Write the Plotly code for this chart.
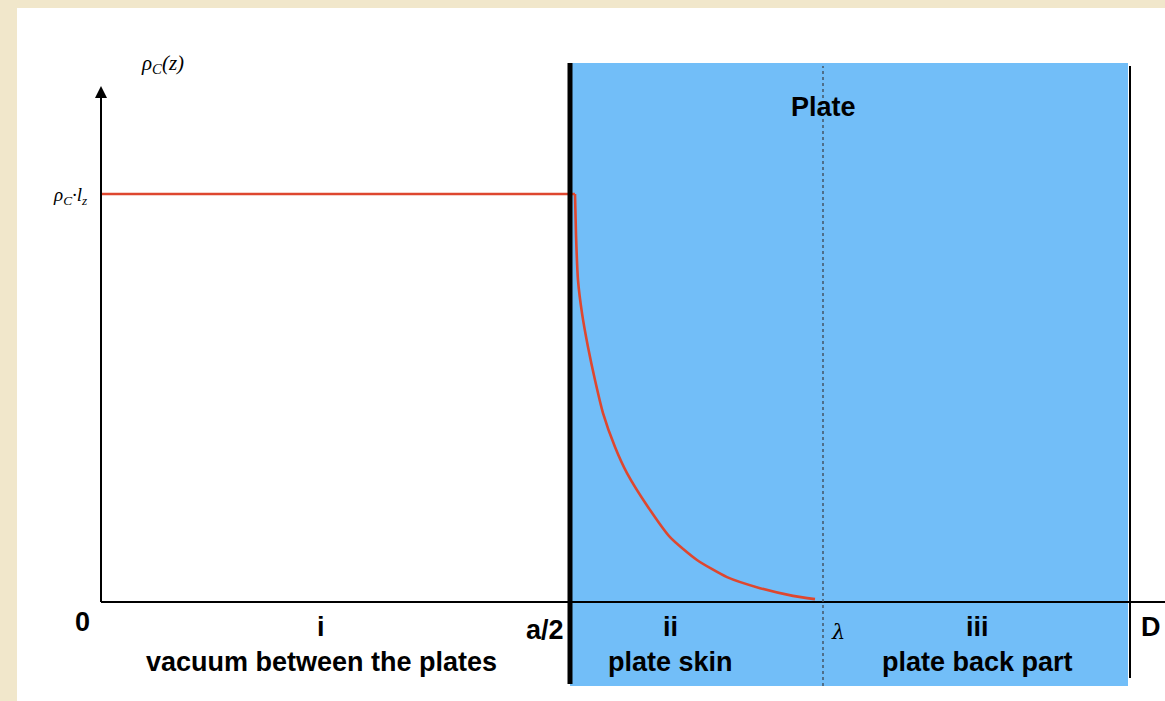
import plotly.graph_objects as go

# ---- data (z in arbitrary units, rho normalised to rho_C * l) ----
z_curve = [0.0, 4.74, 4.75, 4.77, 4.81, 4.87, 4.94, 5.02, 5.14, 5.26, 5.47, 5.69, 5.96, 6.26, 6.59, 6.92, 7.14]
rho_curve = [1.0, 1.0, 0.90, 0.789, 0.708, 0.625, 0.544, 0.463, 0.380, 0.316, 0.233, 0.159, 0.103, 0.061, 0.034, 0.015, 0.007]

z_half_a = 4.69    # a/2 : plate surface
z_lambda = 7.22    # lambda : skin depth end
z_D = 10.29        # D : plate end

region_numerals = ["i", "ii", "iii"]
region_names = ["vacuum between the plates", "plate skin", "plate back part"]
region_centres = [2.20, 5.69, 8.76]

# ---- figure ----
W, H = 1165, 701
x_range = [-1.01, 10.64]
y_range = [-99 / 408, 602 / 408]

fig = go.Figure()

fig.add_trace(go.Scatter(
    x=z_curve[:2], y=rho_curve[:2], mode="lines",
    line=dict(color="#de472f", width=2.6),
    hoverinfo="skip", showlegend=False,
))
fig.add_trace(go.Scatter(
    x=z_curve[1:], y=rho_curve[1:], mode="lines",
    line=dict(color="#de472f", width=2.6, shape="spline", smoothing=0.6),
    hoverinfo="skip", showlegend=False,
))

shapes = []
shapes.append(dict(type="rect", xref="paper", yref="paper",
                   x0=17 / W, x1=1, y0=0, y1=(H - 8) / H,
                   fillcolor="white", line=dict(width=0), layer="below"))
shapes.append(dict(type="rect", xref="x", yref="y",
                   x0=z_half_a, x1=z_D - 0.02, y0=-84 / 408, y1=539 / 408,
                   fillcolor="rgb(114,190,248)", line=dict(width=0), layer="below"))
shapes.append(dict(type="line", xref="x", yref="y", x0=0, x1=x_range[1], y0=0, y1=0,
                   line=dict(color="black", width=2)))
shapes.append(dict(type="line", xref="x", yref="y", x0=0, x1=0, y0=0, y1=510 / 408,
                   line=dict(color="black", width=2)))
shapes.append(dict(type="line", xref="x", yref="y", x0=z_half_a, x1=z_half_a,
                   y0=-82 / 408, y1=539 / 408, line=dict(color="black", width=5)))
shapes.append(dict(type="line", xref="x", yref="y", x0=z_lambda, x1=z_lambda,
                   y0=-84 / 408, y1=536 / 408, line=dict(color="#445566", width=1.5, dash="dot")))
shapes.append(dict(type="line", xref="x", yref="y", x0=z_D, x1=z_D,
                   y0=-76 / 408, y1=536 / 408, line=dict(color="black", width=2)))

bold = dict(family="Liberation Sans, Arial, sans-serif", size=27, color="black")
annotations = []
annotations.append(dict(x=0, y=516 / 408, ax=0, ay=500 / 408, xref="x", yref="y",
                        axref="x", ayref="y", text="", showarrow=True,
                        arrowhead=2, arrowsize=1.2, arrowwidth=2, arrowcolor="black"))
annotations.append(dict(x=0, y=0, xref="x", yref="y", text="<b>0</b>", showarrow=False,
                        xshift=-19, yshift=-20, font=bold))
annotations.append(dict(x=z_half_a, y=0, xref="x", yref="y", text="<b>a/2</b>", showarrow=False,
                        xanchor="right", xshift=-4, yshift=-28, font=bold))
annotations.append(dict(x=z_lambda, y=0, xref="x", yref="y", text="<i>λ</i>", showarrow=False,
                        xshift=15, yshift=-30,
                        font=dict(family="DejaVu Serif, serif", size=21, color="black")))
annotations.append(dict(x=z_D, y=0, xref="x", yref="y", text="<b>D</b>", showarrow=False,
                        xanchor="left", xshift=9, yshift=-25, font=bold))
for c, n, name in zip(region_centres, region_numerals, region_names):
    annotations.append(dict(x=c, y=0, xref="x", yref="y", text="<b>" + n + "</b>",
                            showarrow=False, yshift=-25, font=bold))
    annotations.append(dict(x=c, y=0, xref="x", yref="y", text="<b>" + name + "</b>",
                            showarrow=False, yshift=-60, font=bold))
annotations.append(dict(x=z_lambda, y=495 / 408, xref="x", yref="y", text="<b>Plate</b>",
                        showarrow=False, font=bold))
annotations.append(dict(x=0, y=1.0, xref="x", yref="y",
                        text="<i>ρ<sub>C</sub>·l<sub>z</sub></i>", showarrow=False,
                        xanchor="right", xshift=-12, yshift=-2,
                        font=dict(family="Liberation Serif, serif", size=19, color="black")))
annotations.append(dict(x=0, y=538 / 408, xref="x", yref="y",
                        text="<i>ρ<sub>C</sub>(z)</i>", showarrow=False,
                        xshift=61,
                        font=dict(family="Liberation Serif, serif", size=21, color="black")))

fig.update_layout(
    width=W, height=H,
    margin=dict(l=0, r=0, t=0, b=0),
    paper_bgcolor="#f1e7cb",
    plot_bgcolor="rgba(0,0,0,0)",
    xaxis=dict(range=x_range, visible=False, fixedrange=True),
    yaxis=dict(range=y_range, visible=False, fixedrange=True),
    shapes=shapes,
    annotations=annotations,
    showlegend=False,
)

fig.write_html("out.html")
